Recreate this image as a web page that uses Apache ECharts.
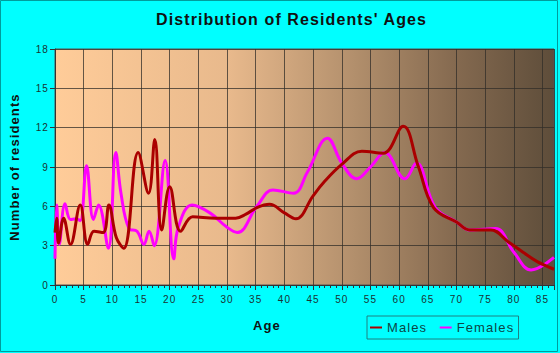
<!DOCTYPE html>
<html>
<head>
<meta charset="utf-8">
<script src="https://cdn.jsdelivr.net/npm/echarts@6/dist/echarts.min.js"></script>
<style>
html, body { margin: 0; padding: 0; background: #00FFFF; }
#chart { width: 560px; height: 353px; }
#chart text { letter-spacing: 1.1px; }
</style>
</head>
<body>
<div id="chart"></div>
<script>
// Data
var maleAges   = [0, 0.3, 0.6, 1.5, 2.7, 4.4, 5.7, 6.8, 8.4, 9.4, 10.7, 12.0, 14.5, 16.3, 17.4, 18.6, 20.0, 21.9, 24.0, 28.0, 31.5, 33.3, 35.2, 37.4, 40.0, 42.0, 45.0, 46.8, 50.0, 53.5, 57.2, 60.7, 63.3, 66.0, 70.0, 72.3, 76.0, 79.0, 81.6, 84.0, 87.0];
var maleValues = [4.0, 5.1, 3.2, 5.1, 3.1, 6.1, 3.1, 4.1, 4.0, 6.1, 3.6, 2.8, 10.1, 7.0, 11.1, 4.2, 7.5, 4.1, 5.2, 5.1, 5.1, 5.4, 5.9, 6.15, 5.5, 5.05, 6.8, 7.8, 9.2, 10.2, 10.05, 12.1, 9.1, 5.9, 4.8, 4.2, 4.2, 3.3, 2.5, 1.8, 1.2];
var femaleAges   = [0, 0.3, 0.75, 1.75, 2.7, 3.7, 4.4, 5.5, 6.7, 7.6, 9.3, 10.6, 11.5, 12.9, 14.3, 15.5, 16.4, 17.3, 19.2, 20.7, 21.5, 23.9, 27.0, 30.0, 31.8, 35.2, 38.0, 41.6, 44.0, 47.5, 50.0, 52.6, 55.0, 57.5, 61.0, 63.0, 66.3, 70.0, 72.3, 76.8, 80.0, 83.0, 87.0];
var femaleValues = [2.0, 6.1, 3.1, 6.2, 5.0, 5.05, 4.9, 9.1, 5.0, 6.1, 2.8, 10.1, 7.0, 4.3, 4.1, 3.1, 4.1, 3.0, 9.5, 2.0, 4.4, 6.1, 5.5, 4.4, 4.0, 6.0, 7.25, 7.0, 8.6, 11.2, 9.3, 8.1, 9.0, 10.1, 8.1, 9.3, 5.9, 4.8, 4.2, 4.3, 2.5, 1.15, 2.1];
var seriesNames = ['Males', 'Females'];
var yTicks = [0, 3, 6, 9, 12, 15, 18];

function pairs(xs, ys) { return xs.map(function (x, i) { return [x, ys[i]]; }); }

var chart = echarts.init(document.getElementById('chart'), null, { renderer: 'svg' });
var font = 'Liberation Sans, Arial, sans-serif';
chart.setOption({
  backgroundColor: '#00FFFF',
  animation: false,
  textStyle: { fontFamily: font },
  title: {
    text: "Distribution of Residents' Ages",
    left: 156, top: 11, padding: 0,
    textStyle: { fontSize: 16, fontWeight: 'bold', color: '#111', fontFamily: font }
  },
  graphic: [{
    type: 'rect', silent: true, z: -1,
    shape: { x: 0.5, y: 0.5, width: 557, height: 351 },
    style: { fill: 'none', stroke: '#009c9c', lineWidth: 1 }
  }],
  legend: {
    data: seriesNames,
    left: 367, top: 316,
    orient: 'horizontal',
    icon: 'rect', itemWidth: 12, itemHeight: 2, itemGap: 18,
    padding: [5, 12, 5, 3],
    borderColor: '#1f8080', borderWidth: 1,
    textStyle: { fontSize: 13, color: '#0c4646', fontFamily: font }
  },
  grid: {
    left: 54, right: 6, top: 49, bottom: 68,
    show: true, borderColor: '#555', borderWidth: 1,
    backgroundColor: new echarts.graphic.LinearGradient(0, 0, 1, 0, [
      { offset: 0, color: '#FFCC99' },
      { offset: 0.35, color: '#E8B98C' },
      { offset: 0.6, color: '#B28F6C' },
      { offset: 0.8, color: '#856A50' },
      { offset: 1, color: '#5E4D3A' }
    ])
  },
  xAxis: {
    type: 'value', min: 0, max: 87, interval: 5,
    name: 'Age', nameLocation: 'middle', nameGap: 34,
    nameTextStyle: { fontSize: 13, fontWeight: 'bold', color: '#111', padding: [0, 75, 0, 0] },
    axisLine: { lineStyle: { color: '#333' } },
    axisTick: { length: 5, lineStyle: { color: '#333' } },
    minorTick: { show: true, splitNumber: 5, length: 3, lineStyle: { color: '#333' } },
    axisLabel: { fontSize: 10, color: '#1a3333', margin: 9, showMaxLabel: false },
    splitLine: { show: true, lineStyle: { color: 'rgba(50,45,40,0.75)', width: 1 } }
  },
  yAxis: {
    type: 'value', min: yTicks[0], max: yTicks[yTicks.length - 1], interval: 3,
    name: 'Number of residents', nameLocation: 'middle', nameGap: 34,
    nameTextStyle: { fontSize: 13, fontWeight: 'bold', color: '#111' },
    axisLine: { show: true, lineStyle: { color: '#333' } },
    axisTick: { show: true, length: 5, lineStyle: { color: '#333' } },
    axisLabel: { fontSize: 10, color: '#1a3333', margin: 6 },
    splitLine: { show: true, lineStyle: { color: 'rgba(50,45,40,0.75)', width: 1 } }
  },
  series: [
    {
      name: 'Females', type: 'line', smooth: 0.4, showSymbol: false, symbol: 'none',
      data: pairs(femaleAges, femaleValues),
      lineStyle: { color: '#FF00FF', width: 3 }, itemStyle: { color: '#FF00FF' }
    },
    {
      name: 'Males', type: 'line', smooth: 0.4, showSymbol: false, symbol: 'none',
      data: pairs(maleAges, maleValues),
      lineStyle: { color: '#AA0000', width: 3 }, itemStyle: { color: '#AA0000' }
    }
  ]
});
</script>
</body>
</html>
